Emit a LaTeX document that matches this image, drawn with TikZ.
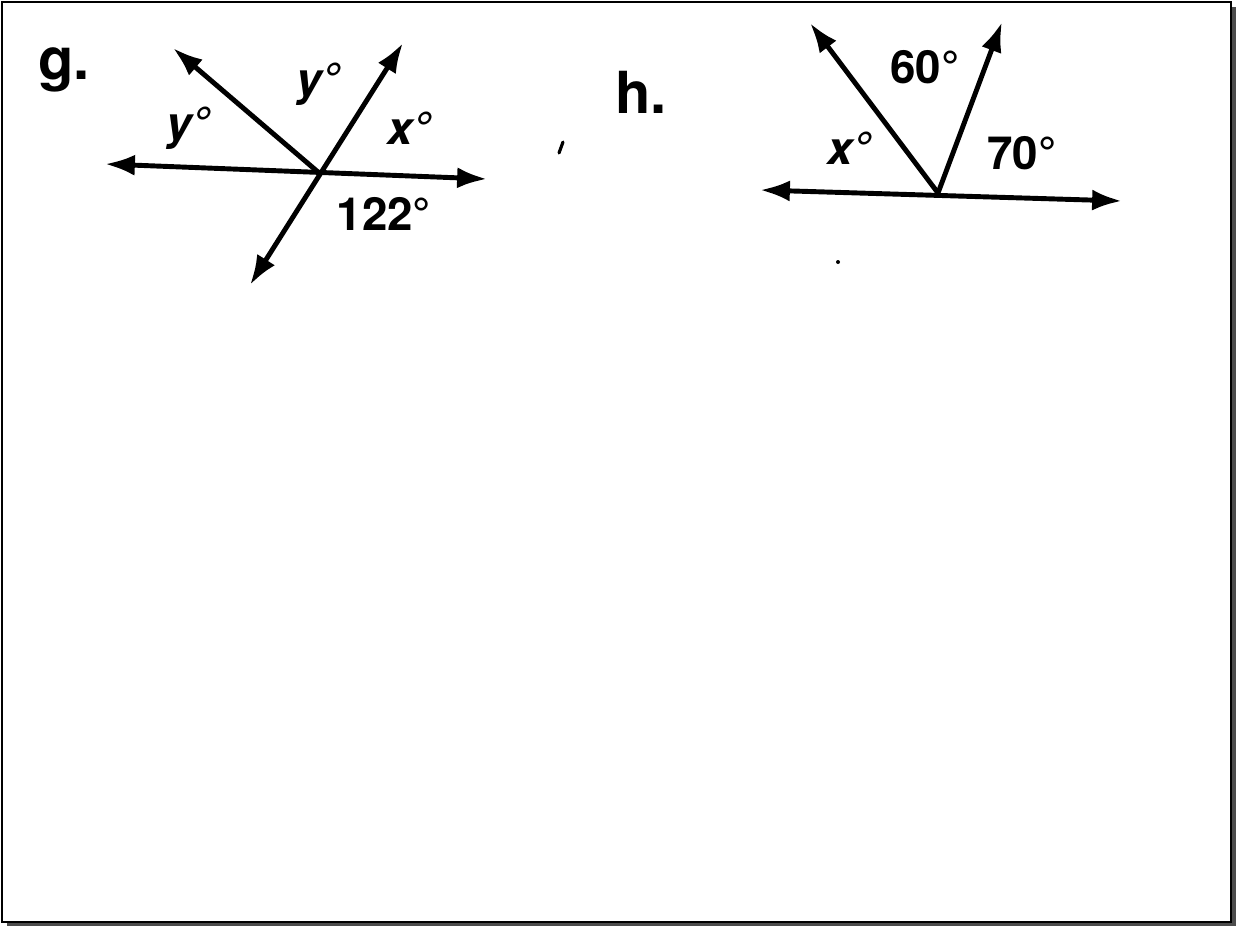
\documentclass[tikz,border=0pt]{standalone}
\usepackage{fontspec}
\setmainfont{TeX Gyre Heros}
\usetikzlibrary{arrows.meta}
\begin{document}
\begin{tikzpicture}[x=0.2mm,y=-0.2mm,
  ray/.style={line width=2.8pt,-{Latex[length=17pt,width=12pt]}},
  twoway/.style={line width=2.8pt,{Latex[length=17pt,width=12pt]}-{Latex[length=17pt,width=12pt]}},
  every node/.style={font=\fontsize{26}{30}\selectfont\bfseries,inner sep=0pt},
  partlabel/.style={font=\fontsize{33}{38}\selectfont\bfseries}]
\useasboundingbox (0,0) rectangle (1236,926);
% frame with shadow
\fill[gray!60!black] (1231,7) rectangle (1236,926);
\fill[gray!60!black] (7,922) rectangle (1236,926);
\draw[line width=1.2pt] (2,2) rectangle (1231,922);
% part g
\node[partlabel] (g) at (64,70) {g.};
\coordinate (gO) at (318,172);
\coordinate (gW) at (105,164);
\coordinate (gE) at (487,179);
\coordinate (gNW) at (173,48);
\coordinate (gNE) at (403,43);
\coordinate (gSW) at (250,285);
\draw[twoway] (gW) -- (gE);
\draw[twoway] (gSW) -- (gNE);
\draw[ray] (gO) -- (gNW);
\node (gy1) at (188,128) {\itshape y°};
\node (gy2) at (318,84) {\itshape y°};
\node (gx) at (409,128) {\itshape x°};
\node (g122) at (384,214) {122°};
% part h
\node[partlabel] (h) at (641,92) {h.};
\coordinate (hO) at (938,193);
\coordinate (hW) at (760,190);
\coordinate (hE) at (1122,201);
\coordinate (hNW) at (810,23);
\coordinate (hNE) at (1002,22);
\draw[twoway] (hW) -- (hE);
\draw[ray] (hO) -- (hNW);
\draw[ray] (hO) -- (hNE);
\node (h60) at (925,67) {60°};
\node (hx) at (849,148) {\itshape x°};
\node (h70) at (1022,153) {70°};
% stray marks
\draw[line width=1.8pt,line cap=round] (563,142) -- (559,153);
\fill (838,262) circle (2);
\end{tikzpicture}
\end{document}
